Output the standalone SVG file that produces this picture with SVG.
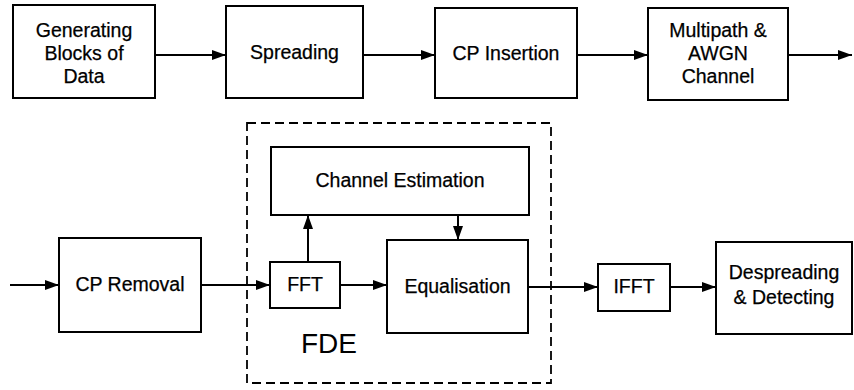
<svg xmlns="http://www.w3.org/2000/svg" width="854" height="390" viewBox="0 0 854 390">
  <defs>
    <marker id="arrow" viewBox="0 0 14 10" refX="14" refY="5" markerWidth="14" markerHeight="10" markerUnits="userSpaceOnUse" orient="auto">
      <path d="M0,0 L14,5 L0,10 Z" fill="#000"/>
    </marker>
    <style>
      .box { fill: #fff; stroke: #000; stroke-width: 2; }
      .lbl { font-family: "Liberation Sans", Arial, sans-serif; font-size: 19.5px; fill: #000; text-anchor: middle; stroke: #000; stroke-width: 0.25; }
      .big { font-family: "Liberation Sans", Arial, sans-serif; font-size: 28px; fill: #000; text-anchor: middle; }
      .edge { fill: none; stroke: #000; stroke-width: 2; marker-end: url(#arrow); }
      .dash { fill: none; stroke: #000; stroke-width: 1.8; stroke-dasharray: 9 5; }
    </style>
  </defs>
  <rect width="854" height="390" fill="#fff"/>

  <!-- frequency-domain equaliser boundary -->
  <g id="fde">
    <rect class="dash" x="247" y="123" width="304" height="260"/>
    <text class="big" x="329" y="353">FDE</text>
  </g>

  <!-- transmitter chain -->
  <g id="gen">
    <rect class="box" x="13" y="5" width="142" height="93"/>
    <text class="lbl" x="84" y="37">Generating</text>
    <text class="lbl" x="84" y="60">Blocks of</text>
    <text class="lbl" x="84" y="83">Data</text>
  </g>
  <g id="spread">
    <rect class="box" x="226" y="6" width="137" height="92"/>
    <text class="lbl" x="294.5" y="59">Spreading</text>
  </g>
  <g id="cpins">
    <rect class="box" x="435" y="8" width="142" height="90"/>
    <text class="lbl" x="506" y="60">CP Insertion</text>
  </g>
  <g id="channel">
    <rect class="box" x="648" y="8" width="140" height="92"/>
    <text class="lbl" x="718" y="37">Multipath &amp;</text>
    <text class="lbl" x="718" y="60">AWGN</text>
    <text class="lbl" x="718" y="83">Channel</text>
  </g>

  <!-- receiver chain -->
  <g id="cprem">
    <rect class="box" x="59" y="238" width="142" height="94"/>
    <text class="lbl" x="130" y="291">CP Removal</text>
  </g>
  <g id="fft">
    <rect class="box" x="270" y="262" width="70" height="46"/>
    <text class="lbl" x="305" y="291">FFT</text>
  </g>
  <g id="chest">
    <rect class="box" x="271" y="147" width="258" height="68"/>
    <text class="lbl" x="400" y="187">Channel Estimation</text>
  </g>
  <g id="eq">
    <rect class="box" x="387" y="240" width="141" height="93"/>
    <text class="lbl" x="457.5" y="293">Equalisation</text>
  </g>
  <g id="ifft">
    <rect class="box" x="598" y="264" width="72" height="47"/>
    <text class="lbl" x="634" y="293">IFFT</text>
  </g>
  <g id="despread">
    <rect class="box" x="716" y="242" width="136" height="92"/>
    <text class="lbl" x="784" y="279">Despreading</text>
    <text class="lbl" x="784" y="304">&amp; Detecting</text>
  </g>

  <!-- connectors -->
  <g id="connectors">
    <line class="edge" x1="155" y1="55" x2="226" y2="55"/>
    <line class="edge" x1="363" y1="55" x2="435" y2="55"/>
    <line class="edge" x1="577" y1="55" x2="648" y2="55"/>
    <line class="edge" x1="788" y1="55" x2="852" y2="55"/>
    <line class="edge" x1="10" y1="285" x2="59" y2="285"/>
    <line class="edge" x1="201" y1="285" x2="270" y2="285"/>
    <line class="edge" x1="308" y1="262" x2="308" y2="215"/>
    <line class="edge" x1="340" y1="285" x2="387" y2="285"/>
    <line class="edge" x1="458" y1="215" x2="458" y2="240"/>
    <line class="edge" x1="528" y1="287" x2="598" y2="287"/>
    <line class="edge" x1="670" y1="287" x2="716" y2="287"/>
  </g>
</svg>
